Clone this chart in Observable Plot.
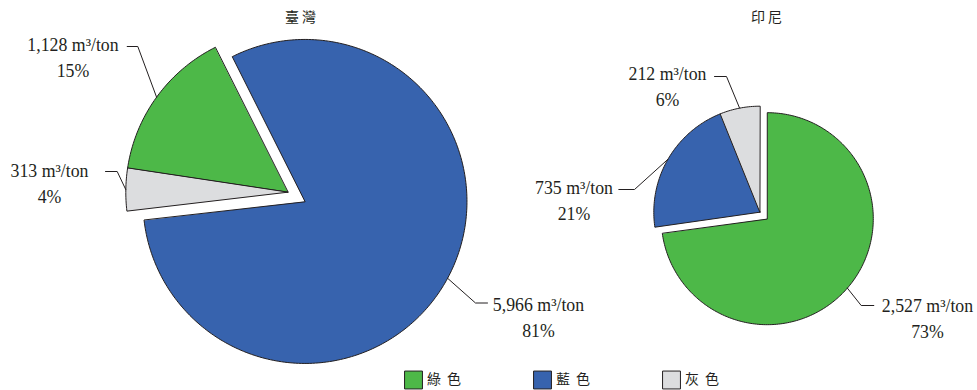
<!DOCTYPE html>
<html><head><meta charset="utf-8">
<script src="https://cdn.jsdelivr.net/npm/d3@7"></script>
<script src="https://cdn.jsdelivr.net/npm/@observablehq/plot@0.6"></script>
<style>body{margin:0;background:#fff}</style>
</head><body><div id="chart"></div>
<script>
// ---- data ----
const categories = ["綠色", "藍色", "灰色"];
const colors = ["#4db848", "#3763ae", "#dcdddf"];
const pieTitles = ["臺灣", "印尼"];
const taiwanValues = [1128, 5966, 313];
const indonesiaValues = [2527, 735, 212];
const unit = " m³/ton";

// ---- layout (not data) ----
const W = 977, H = 390;
const ink = "#231f20";
const layout = [
  {values: taiwanValues, title: pieTitles[0], titleX: 300, cx: 287.3, cy: 191.7, r: 162, start: -81.5, explode: [0, 19.5, 0],
   labels: [
     {tx: 72.5, ty: 45, elbow: [137.3, 46], end: [126.7, 46]},
     {tx: 538, ty: 305, elbow: [475, 302.5], end: [487, 302.5]},
     {tx: 49, ty: 171, elbow: [116.7, 171], end: [105, 171]}
   ]},
  {values: indonesiaValues, title: pieTitles[1], titleX: 766, cx: 759.3, cy: 211.7, r: 106, start: 0, explode: [9.9, 0, 0],
   labels: [
     {tx: 927, ty: 306, elbow: [860.7, 305], end: [873.3, 305]},
     {tx: 573.5, ty: 187.5, elbow: [634, 189], end: [618.3, 189]},
     {tx: 667, ty: 74, elbow: [726, 76], end: [714, 76]}
   ]}
];

const rad = Math.PI / 180;
const slicePts = [];   // polygon points
const leaderPts = [];  // leader line points
const labelRows = [];  // text labels
const titleRows = [];

layout.forEach((p, pi) => {
  const total = d3.sum(p.values);
  const s = p.start * rad;
  const arcs = d3.pie().sort(null).startAngle(s).endAngle(s + 2 * Math.PI)(p.values);
  titleRows.push({x: p.titleX, y: 17, text: p.title});
  arcs.forEach((a, i) => {
    const mid = (a.startAngle + a.endAngle) / 2;
    const e = p.explode[i];
    const cx = p.cx + e * Math.sin(mid), cy = p.cy - e * Math.cos(mid);
    const id = pi + "-" + i;
    slicePts.push({id, x: cx, y: cy, fill: colors[i]});
    const n = Math.max(2, Math.ceil((a.endAngle - a.startAngle) / rad));
    for (let k = 0; k <= n; k++) {
      const t = a.startAngle + (a.endAngle - a.startAngle) * k / n;
      slicePts.push({id, x: cx + p.r * Math.sin(t), y: cy - p.r * Math.cos(t), fill: colors[i]});
    }
    const L = p.labels[i];
    leaderPts.push({id, x: cx + p.r * Math.sin(mid), y: cy - p.r * Math.cos(mid)});
    leaderPts.push({id, x: L.elbow[0], y: L.elbow[1]});
    leaderPts.push({id, x: L.end[0], y: L.end[1]});
    labelRows.push({x: L.tx, y: L.ty, text: d3.format(",")(a.data) + unit});
    labelRows.push({x: L.tx, y: L.ty + 26, text: Math.round(a.data / total * 100) + "%"});
  });
});

const legendRows = categories.map((c, i) => ({x: 413 + 129 * i, y: 379.5, text: c, fill: colors[i]}));

const marks = [];
const ids = [...new Set(slicePts.map(d => d.id))];
ids.forEach(id => {
  const pts = slicePts.filter(d => d.id === id);
  marks.push(Plot.line(pts, {x: "x", y: "y", fill: pts[0].fill, stroke: ink, strokeWidth: 1, curve: "linear-closed", strokeLinejoin: "miter"}));
});
marks.push(Plot.line(leaderPts, {x: "x", y: "y", z: "id", stroke: ink, strokeWidth: 1}));
marks.push(Plot.text(labelRows, {x: "x", y: "y", text: "text", fontFamily: "Liberation Serif", fontSize: 17.8, fill: ink}));
marks.push(Plot.text(titleRows, {x: "x", y: "y", text: "text", fontFamily: "Noto Sans CJK TC", fontSize: 14, fill: ink}));
marks.push(Plot.dot(legendRows, {x: "x", y: "y", symbol: "square", r: 10.1, fill: "fill", stroke: ink, strokeWidth: 1}));
marks.push(Plot.text(legendRows, {x: d => d.x + 13.5, y: "y", text: "text", textAnchor: "start", fontFamily: "Noto Sans CJK TC", fontSize: 14, fill: ink}));

const chart = Plot.plot({
  width: W, height: H, margin: 0,
  x: {type: "linear", domain: [0, W], range: [0, W], axis: null},
  y: {type: "linear", domain: [0, H], range: [0, H], axis: null},
  color: {type: "identity"},
  style: {background: "#fff"},
  marks
});
d3.select(chart).selectAll("text").each(function() {
  const t = this.textContent;
  if (categories.includes(t)) d3.select(this).attr("letter-spacing", 6);
  if (pieTitles.includes(t)) d3.select(this).attr("letter-spacing", 3).attr("dx", 1.5);
});
document.getElementById("chart").appendChild(chart);
</script>
</body></html>
